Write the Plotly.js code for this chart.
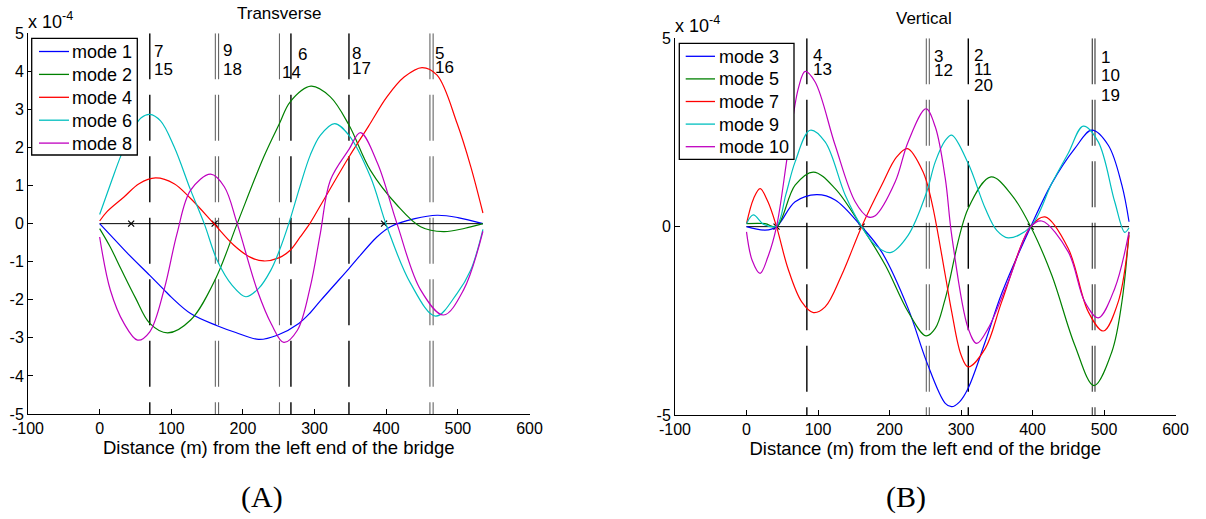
<!DOCTYPE html>
<html><head><meta charset="utf-8">
<script src="https://cdn.plot.ly/plotly-3.0.1.min.js"></script>
<style>html,body{margin:0;padding:0;background:#fff}#chart{width:1206px;height:519px}</style>
</head><body><div id="chart"></div>
<script>
// ================= DATA (mode-shape amplitudes in units of 1e-4) =================
// ---- (A) Transverse ----
const leftModeNames = ['mode 1', 'mode 2', 'mode 4', 'mode 6', 'mode 8'];
const m1x = [0, 20, 40, 70, 90, 100, 127, 164, 190, 222, 248, 278, 294, 308, 348, 387, 406, 440, 471, 500, 535];
const m1y = [0, -0.40, -0.80, -1.36, -1.74, -1.93, -2.36, -2.68, -2.86, -3.04, -2.93, -2.62, -2.34, -2.03, -1.18, -0.35, -0.08, 0.13, 0.22, 0.16, 0];
const m2x = [0, 15, 30, 50, 70, 95, 127, 162, 192, 229, 251, 266, 295, 322, 348, 378, 415, 448, 480, 510, 535];
const m2y = [-0.13, -0.62, -1.2, -1.95, -2.62, -2.87, -2.53, -1.44, 0.0, 1.75, 2.63, 3.2, 3.61, 3.33, 2.59, 1.40, 0.49, -0.08, -0.21, -0.12, 0];
const m4x = [0, 10, 34, 55, 78, 104, 127, 160, 187, 210, 229, 250, 266, 280, 294, 308, 348, 375, 401, 425, 450, 471, 499, 518, 535];
const m4y = [0.07, 0.31, 0.70, 1.05, 1.20, 1.05, 0.66, -0.01, -0.56, -0.88, -0.98, -0.90, -0.70, -0.35, 0.02, 0.47, 1.75, 2.55, 3.33, 3.85, 4.10, 3.90, 2.63, 1.5, 0.28];
const m6x = [0, 17, 30, 45, 58, 70, 85, 104, 127, 146, 164, 185, 204, 222, 239, 251, 264, 280, 294, 308, 328, 348, 378, 401, 434, 469, 499, 518, 535];
const m6y = [0.24, 1.14, 1.8, 2.42, 2.78, 2.87, 2.70, 2.02, 0.88, 0.0, -0.96, -1.62, -1.92, -1.7, -1.22, -0.70, 0.0, 1.0, 1.80, 2.32, 2.63, 2.32, 1.23, -0.08, -1.57, -2.43, -1.83, -1.22, -0.15];
const m8x = [0, 15, 34, 53, 70, 90, 108, 127, 155, 174, 192, 220, 240, 257, 276, 294, 308, 322, 348, 364, 388, 415, 448, 480, 508, 535];
const m8y = [-0.35, -1.75, -2.62, -3.06, -2.84, -1.73, -0.26, 0.88, 1.30, 0.97, 0.0, -1.75, -2.65, -3.12, -2.80, -1.66, -0.26, 1.14, 1.95, 2.39, 1.58, 0.0, -1.74, -2.40, -1.74, -0.2];

// ---- (B) Vertical ----
const rightModeNames = ['mode 3', 'mode 5', 'mode 7', 'mode 9', 'mode 10'];
const r3x = [0, 26, 42, 68, 98, 124, 161, 189, 226, 252, 278, 287, 298, 310, 334, 357, 397.5, 427, 459, 483, 506, 525, 535];
const r3y = [0, -0.09, 0, 0.66, 0.85, 0.71, 0, -0.67, -2.17, -3.59, -4.69, -4.78, -4.65, -4.29, -3.05, -1.77, 0, 1.15, 2.07, 2.56, 2.16, 1.10, 0.13];
const r5x = [0, 26, 42, 68, 93.5, 124, 161, 194, 226, 251, 264, 278, 310, 342, 371, 397.5, 427, 459, 486, 511, 525, 535];
const r5y = [0.08, 0.08, 0.0, 1.10, 1.45, 1.01, 0, -1.02, -2.26, -2.90, -2.70, -1.91, 0.48, 1.32, 0.84, 0, -1.29, -3.14, -4.22, -3.32, -2.0, -0.14];
const r7x = [0, 10, 19, 30, 42, 58, 77, 93.5, 110, 133, 161, 189, 210, 225, 247, 259, 278, 287, 300, 310, 334, 357, 397.5, 417.5, 450, 478, 499, 520, 535];
const r7y = [0.08, 0.75, 1.01, 0.66, 0, -1.11, -1.99, -2.28, -2.13, -1.29, 0, 1.10, 1.85, 2.07, 1.45, 0.66, -1.29, -2.26, -3.4, -3.72, -3.23, -1.99, 0, 0.26, -0.58, -2.26, -2.77, -1.99, -0.23];
const r9x = [0, 9.5, 25, 42, 55, 68, 89, 110, 138, 161, 180, 201, 226, 252, 264, 278, 287, 310, 334, 350, 366, 397.5, 427, 450, 471, 492, 515, 529, 535];
const r9y = [0.08, 0.31, 0.05, 0.02, 0.85, 1.72, 2.56, 2.25, 0.84, 0, -0.49, -0.69, -0.23, 0.92, 1.72, 2.29, 2.43, 1.68, 0.48, -0.1, -0.30, 0, 1.15, 1.95, 2.67, 2.25, 0.66, -0.15, -0.03];
const r10x = [0, 8, 19, 30, 42, 58, 72.5, 82, 96, 124, 152, 170, 180, 208, 226, 251, 264, 278, 287, 310, 322, 338, 366, 397.5, 413, 450, 473, 492, 515, 535];
const r10y = [-0.14, -0.9, -1.24, -0.8, 0, 1.98, 3.67, 4.12, 3.84, 2.16, 0.66, 0.26, 0.29, 1.19, 2.25, 3.13, 2.65, 1.28, -0.23, -2.70, -3.10, -2.70, -1.46, 0, 0.15, -0.67, -1.99, -2.42, -1.64, -0.14];

// bridge deck reference line and nodes (x marks)
const bridgeEnds = [0, 535];
const leftNodes = [44, 160.5, 397];
const rightNodes = [42, 161, 397.5];

// mode-location marker lines (distance, m)
const leftLineX = [70, 161.5, 166, 251, 267, 348, 461, 465.5];
const rightLineX = [84.4, 251.5, 255.7, 310.2, 483.6, 487.4];

// mode-number labels
const leftLabelText = ['7', '15', '9', '18', '14', '6', '8', '17', '5', '16'];
const leftLabelX = [73, 73, 170, 170, 252, 273.5, 349, 349, 465.3, 465.3];
const leftLabelY = [4.51, 4.05, 4.55, 4.05, 3.98, 4.45, 4.48, 4.07, 4.48, 4.09];
const rightLabelText = ['4', '13', '3', '12', '2', '11', '20', '1', '10', '19'];
const rightLabelX = [90.2, 90.2, 259.4, 259.4, 314.7, 314.7, 314.7, 493, 493, 493];
const rightLabelY = [4.55, 4.17, 4.53, 4.15, 4.55, 4.16, 3.75, 4.48, 4.0, 3.47];

// ticks
const xTickVals = [-100, 0, 100, 200, 300, 400, 500, 600];
const xTickText = ['-100', '0', '100', '200', '300', '400', '500', '600'];
const leftYTickVals = [-5, -4, -3, -2, -1, 0, 1, 2, 3, 4, 5];
const leftYTickText = ['-5', '-4', '-3', '-2', '-1', '0', '1', '2', '3', '4', '5'];
const rightYTickVals = [-5, 0, 5];
const rightYTickText = ['-5', '0', '5'];

// ================= STYLE / LAYOUT =================
const W = 1206, H = 519;
const FONT = 'Liberation Sans, Arial, sans-serif';
const SERIF = 'Liberation Serif, Times New Roman, serif';
const modeColors = ['rgb(0,0,255)', 'rgb(0,128,0)', 'rgb(255,0,0)', 'rgb(0,191,191)', 'rgb(191,0,191)'];
const leftLineColors = ['#000', '#666', '#666', '#666', '#000', '#000', '#666', '#666'];
const rightLineColors = ['#000', '#666', '#666', '#000', '#333', '#333'];
const DASH = '46px,15.5px';
const YR = [-5, 5];
const fx = p => p / W, fy = p => 1 - p / H;

// legend boxes (pixel geometry)
const legendGeom = [
  {names: leftModeNames, box: [31.7, 38.3, 137.3, 155], line: [39, 69], textX: 70, y0: 51.5, step: 22.9},
  {names: rightModeNames, box: [679.3, 43.3, 794, 159.3], line: [685.7, 715], textX: 717, y0: 56.3, step: 22.6}
];

const traces = [];
function addModes(xs, ys, names, xa, ya) {
  xs.forEach((x, i) => traces.push({
    type: 'scatter', mode: 'lines', x: x, y: ys[i], name: names[i],
    xaxis: xa, yaxis: ya, showlegend: false,
    line: {color: modeColors[i], width: 1.2, shape: 'spline', smoothing: 1},
    hoverinfo: 'skip'
  }));
}
function addMarkerLines(xs, colors, xa, ya) {
  xs.forEach((x, i) => traces.push({
    type: 'scatter', mode: 'lines', x: [x, x], y: [YR[1], YR[0]],
    xaxis: xa, yaxis: ya, showlegend: false, hoverinfo: 'skip',
    line: {color: colors[i], width: colors[i] === '#000' ? 1.4 : 1.1, dash: DASH}
  }));
}
function addDeck(nodes, xa, ya) {
  traces.push({type: 'scatter', mode: 'lines', x: bridgeEnds, y: bridgeEnds.map(() => 0),
    xaxis: xa, yaxis: ya, showlegend: false, hoverinfo: 'skip', line: {color: '#000', width: 1}});
  traces.push({type: 'scatter', mode: 'markers', x: nodes, y: nodes.map(() => 0),
    xaxis: xa, yaxis: ya, showlegend: false, hoverinfo: 'skip',
    marker: {symbol: 'x-thin', size: 6, color: '#000', line: {color: '#000', width: 1.2}}});
}

addMarkerLines(leftLineX, leftLineColors, 'x', 'y');
addMarkerLines(rightLineX, rightLineColors, 'x2', 'y2');
addDeck(leftNodes, 'x', 'y');
addDeck(rightNodes, 'x2', 'y2');
addModes([m1x, m2x, m4x, m6x, m8x], [m1y, m2y, m4y, m6y, m8y], leftModeNames, 'x', 'y');
addModes([r3x, r5x, r7x, r9x, r10x], [r3y, r5y, r7y, r9y, r10y], rightModeNames, 'x2', 'y2');

const annotations = [];
const shapes = [];
leftLabelText.forEach((t, i) => annotations.push({xref: 'x', yref: 'y', x: leftLabelX[i], y: leftLabelY[i],
  text: t, showarrow: false, xanchor: 'left', yanchor: 'middle', font: {size: 17, family: FONT, color: '#000'}}));
rightLabelText.forEach((t, i) => annotations.push({xref: 'x2', yref: 'y2', x: rightLabelX[i], y: rightLabelY[i],
  text: t, showarrow: false, xanchor: 'left', yanchor: 'middle', font: {size: 17, family: FONT, color: '#000'}}));

const textAnn = (x, y, text, size, family, xanchor) => ({xref: 'paper', yref: 'paper', x: fx(x), y: fy(y), text: text,
  showarrow: false, xanchor: xanchor || 'center', yanchor: 'middle', font: {size: size, family: family || FONT, color: '#000'}});
annotations.push(textAnn(278.5, 13.5, 'Transverse', 17));
annotations.push(textAnn(924, 18.3, 'Vertical', 17));
annotations.push(textAnn(26, 20, 'x 10<sup>-4</sup>', 18, FONT, 'left'));
annotations.push(textAnn(673, 25, 'x 10<sup>-4</sup>', 18, FONT, 'left'));
annotations.push(textAnn(261.5, 497, '(A)', 30, SERIF));
annotations.push(textAnn(906, 497, '(B)', 30, SERIF));

// legends (box, colour samples and names)
legendGeom.forEach(g => {
  shapes.push({type: 'rect', xref: 'paper', yref: 'paper', layer: 'above',
    x0: fx(g.box[0]), x1: fx(g.box[2]), y0: fy(g.box[3]), y1: fy(g.box[1]),
    fillcolor: '#fff', line: {color: '#000', width: 1.3}});
  g.names.forEach((n, i) => {
    const yy = g.y0 + i * g.step;
    shapes.push({type: 'line', xref: 'paper', yref: 'paper', layer: 'above',
      x0: fx(g.line[0]), x1: fx(g.line[1]), y0: fy(yy), y1: fy(yy), line: {color: modeColors[i], width: 1.3}});
    annotations.push(textAnn(g.textX, yy + 0.5, n, 18, FONT, 'left'));
  });
});

const axisBase = {showline: true, linecolor: '#000', linewidth: 1, ticks: 'inside', ticklen: 5, tickcolor: '#000',
  showgrid: false, zeroline: false, tickfont: {size: 16, family: FONT, color: '#000'}, fixedrange: true};
const xTitle = {text: 'Distance (m) from the left end of the bridge', font: {size: 18.5, family: FONT, color: '#000'}, standoff: 3};

const layout = {
  width: W, height: H, margin: {l: 0, r: 0, t: 0, b: 0},
  paper_bgcolor: '#fff', plot_bgcolor: 'rgba(0,0,0,0)',
  font: {family: FONT, color: '#000', size: 16},
  xaxis: Object.assign({}, axisBase, {domain: [fx(28), fx(529.5)], range: [-100, 600], anchor: 'y',
    tickmode: 'array', tickvals: xTickVals, ticktext: xTickText, title: xTitle}),
  yaxis: Object.assign({}, axisBase, {domain: [fy(414), fy(33.3)], range: YR, anchor: 'x',
    tickmode: 'array', tickvals: leftYTickVals, ticktext: leftYTickText}),
  xaxis2: Object.assign({}, axisBase, {domain: [fx(675), fx(1175.5)], range: [-100, 600], anchor: 'y2',
    tickmode: 'array', tickvals: xTickVals, ticktext: xTickText, title: xTitle}),
  yaxis2: Object.assign({}, axisBase, {domain: [fy(415), fy(38.3)], range: YR, anchor: 'x2',
    tickmode: 'array', tickvals: rightYTickVals, ticktext: rightYTickText}),
  shapes: shapes,
  annotations: annotations,
  showlegend: false
};

Plotly.newPlot('chart', traces, layout, {displayModeBar: false, staticPlot: true});
</script>
</body></html>
